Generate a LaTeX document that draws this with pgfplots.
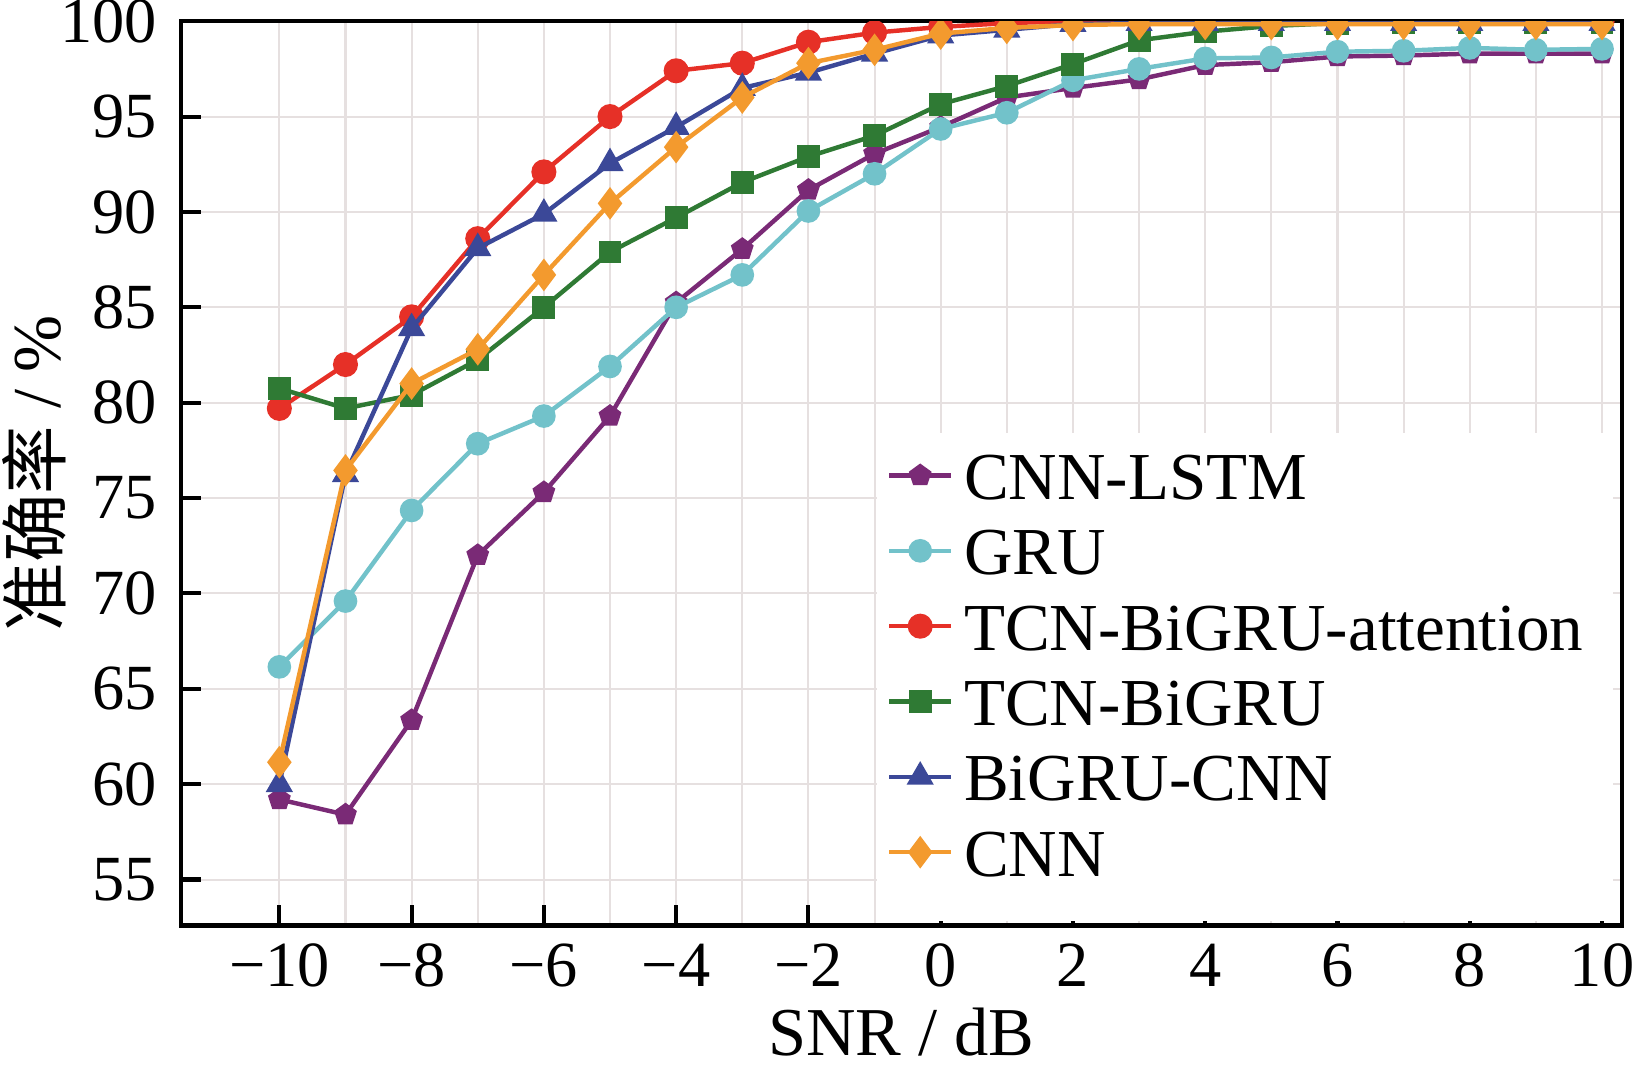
\documentclass[border=0pt]{standalone}
\usepackage{fontspec}
\setmainfont{Liberation Serif}
\newfontfamily\cjk{Noto Sans CJK SC}
\usepackage{pgfplots}
\pgfplotsset{compat=1.18}
\usetikzlibrary{plotmarks}
\definecolor{cpurple}{RGB}{122,42,118}
\definecolor{ccyan}{RGB}{114,194,202}
\definecolor{cred}{RGB}{230,48,39}
\definecolor{cgreen}{RGB}{47,122,52}
\definecolor{cblue}{RGB}{59,72,152}
\definecolor{corange}{RGB}{243,154,46}
\definecolor{gridc}{RGB}{230,224,224}
\begin{document}
\fontsize{10pt}{12pt}\selectfont
\begin{tikzpicture}
\begin{axis}[
  scale only axis, width=210.4pt, height=132pt,
  xmin=-11.49, xmax=10.3, ymin=52.6, ymax=100,
  xtick={-10,-8,...,10},
  xticklabels={−10,−8,−6,−4,−2,0,2,4,6,8,10},
  minor xtick={-9,-7,...,9},
  ytick={55,60,...,100},
  tick pos=left,
  tick align=inside,
  major tick length=2.9pt, minor tick length=0pt,
  every tick/.style={black, line width=0.6pt},
  axis line style={black, line width=0.65pt},
  xmajorgrids, xminorgrids, ymajorgrids,
  major grid style={color=gridc, line width=0.3pt},
  minor grid style={color=gridc, line width=0.3pt},
  /pgf/number format/assume math mode=true,
  tick label style={font=\fontsize{9.4pt}{11pt}\selectfont},
  xticklabel style={yshift=0.8pt},
  xlabel={SNR / dB},
  ylabel={{\cjk 准确率} / \%},
  label style={font=\fontsize{10pt}{12pt}\selectfont},
  xlabel style={at={(axis description cs:0.5,0)}, anchor=north, yshift=-8.6pt},
  ylabel style={at={(axis description cs:0,0.5)}, anchor=center, yshift=21.4pt},
  clip marker paths=true,
  legend style={at={(axis cs:-0.83,78.23)}, anchor=north west, draw=none, fill=none,
    inner sep=0pt, font=\fontsize{9.8pt}{12pt}\selectfont,
    nodes={inner xsep=1.6pt, inner ysep=2pt, text height=7pt, text depth=0pt}},
  legend cell align=left,
  legend image code/.code={\draw[#1, mark repeat=2, mark phase=2] plot coordinates {(0pt,0pt) (4.5pt,0pt) (9pt,0pt)};},
]
\fill[white] (axis cs:-0.97,52.85) rectangle (axis cs:10.17,78.4);
\addplot[color=cpurple, line width=0.65pt, mark=pentagon*, mark size=1.35pt] coordinates {
(-10,59.2) (-9,58.4) (-8,63.35) (-7,72.0) (-6,75.3) (-5,79.3) (-4,85.25) (-3,88.05) (-2,91.15) (-1,93.05) (0,94.45) (1,96.0) (2,96.5) (3,96.95) (4,97.7) (5,97.85) (6,98.15) (7,98.2) (8,98.3) (9,98.3) (10,98.3)};
\addlegendentry{CNN-LSTM}
\addplot[color=ccyan, line width=0.65pt, mark=*, mark size=1.4pt] coordinates {
(-10,66.15) (-9,69.6) (-8,74.35) (-7,77.85) (-6,79.3) (-5,81.9) (-4,85.0) (-3,86.7) (-2,90.05) (-1,92.0) (0,94.35) (1,95.2) (2,96.9) (3,97.5) (4,98.05) (5,98.1) (6,98.4) (7,98.45) (8,98.6) (9,98.5) (10,98.55)};
\addlegendentry{GRU}
\addplot[color=cred, line width=0.65pt, mark=*, mark size=1.5pt] coordinates {
(-10,79.7) (-9,82.0) (-8,84.5) (-7,88.6) (-6,92.1) (-5,95.0) (-4,97.4) (-3,97.8) (-2,98.9) (-1,99.4) (0,99.7) (1,99.9) (2,100) (3,100) (4,100) (5,100) (6,100) (7,100) (8,100) (9,100) (10,100)};
\addlegendentry{TCN-BiGRU-attention}
\addplot[color=cgreen, line width=0.65pt, mark=square*, mark size=1.35pt] coordinates {
(-10,80.75) (-9,79.7) (-8,80.4) (-7,82.25) (-6,85.0) (-5,87.9) (-4,89.7) (-3,91.55) (-2,92.9) (-1,94.0) (0,95.65) (1,96.6) (2,97.75) (3,99.0) (4,99.45) (5,99.75) (6,99.9) (7,99.95) (8,99.95) (9,99.95) (10,99.95)};
\addlegendentry{TCN-BiGRU}
\addplot[color=cblue, line width=0.65pt, mark=triangle*, mark size=1.65pt] coordinates {
(-10,60.0) (-9,76.25) (-8,83.9) (-7,88.1) (-6,89.9) (-5,92.55) (-4,94.45) (-3,96.5) (-2,97.3) (-1,98.3) (0,99.25) (1,99.55) (2,99.85) (3,99.9) (4,99.9) (5,99.9) (6,99.9) (7,99.9) (8,99.9) (9,99.9) (10,99.9)};
\addlegendentry{BiGRU-CNN}
\addplot[color=corange, line width=0.65pt, mark=diamond*, mark size=1.85pt] coordinates {
(-10,61.15) (-9,76.45) (-8,81.0) (-7,82.8) (-6,86.7) (-5,90.45) (-4,93.4) (-3,96.0) (-2,97.8) (-1,98.5) (0,99.35) (1,99.65) (2,99.8) (3,99.85) (4,99.85) (5,99.85) (6,99.85) (7,99.85) (8,99.85) (9,99.85) (10,99.85)};
\addlegendentry{CNN}
\end{axis}
\pgfresetboundingbox
\path[use as bounding box] (current axis.south west) ++(-26.4pt,-20.6pt) rectangle ([xshift=2.8pt,yshift=3.1pt]current axis.north east);
\end{tikzpicture}
\end{document}
